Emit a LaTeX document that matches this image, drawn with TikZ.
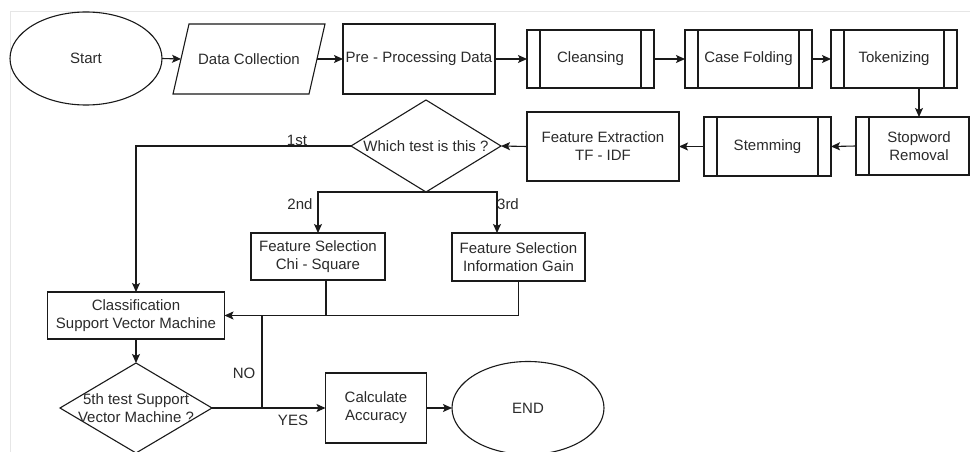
\documentclass[tikz,border=0pt]{standalone}
\usepackage{fontspec}
\setmainfont{Liberation Sans}
\usetikzlibrary{shapes.geometric,arrows.meta}
\definecolor{ink}{HTML}{1A1A1A}
\definecolor{txt}{HTML}{2B2B2B}
\definecolor{framegray}{HTML}{E6E6E6}
\begin{document}
\begin{tikzpicture}[x=1pt,y=-1pt,
  base/.style={line width=1.1pt, draw=ink, font=\fontsize{15}{18}\selectfont, text=txt, align=center, inner sep=0pt, outer sep=0pt},
  box/.style={base, rectangle},
  sub/.style={base, rectangle, path picture={
     \draw[line width=1.1pt, ink] ([xshift=13pt]path picture bounding box.north west) -- ([xshift=13pt]path picture bounding box.south west);
     \draw[line width=1.1pt, ink] ([xshift=-13pt]path picture bounding box.north east) -- ([xshift=-13pt]path picture bounding box.south east);}},
  term/.style={base, ellipse},
  dec/.style={base, diamond},
  lbl/.style={font=\fontsize{15}{18}\selectfont, text=txt, inner sep=0pt, align=center},
  arr/.style={line width=1.1pt, draw=ink, -{Stealth[length=9pt,width=8pt,inset=2pt]}},
  ln/.style={line width=1.1pt, draw=ink},
]
\useasboundingbox (0,0) rectangle (970,452);
\fill[white] (0,0) rectangle (970,452);
\draw[framegray, line width=1pt] (10,452) -- (10,12) -- (970,12);

% top row
\node[term, minimum width=152pt, minimum height=93pt] (start) at (86,58.5) {Start};
\node[base, draw=none, minimum width=136pt, minimum height=70pt] (data) at (249,59) {Data Collection};
\draw[ln] ([xshift=-8pt]data.south west) -- ([xshift=8pt]data.north west) -- ([xshift=8pt]data.north east) -- ([xshift=-8pt]data.south east) -- cycle;
\node[box, minimum width=152pt, minimum height=70pt] (pre) at (419,59) {Pre - Processing Data};
\node[sub, minimum width=127pt, minimum height=58pt] (clean) at (590.5,59) {Cleansing};
\node[sub, minimum width=127pt, minimum height=58pt] (fold) at (748.5,59) {Case Folding};
\node[sub, minimum width=126pt, minimum height=58pt] (tok) at (894,59) {Tokenizing};

% second row
\node[sub, minimum width=126pt, minimum height=58pt] (stop) at (919,146) {Stopword\\Removal};
\node[sub, minimum width=127pt, minimum height=59pt] (stem) at (767.5,146.5) {Stemming};
\node[box, minimum width=152pt, minimum height=69pt] (tfidf) at (603,146.5) {Feature Extraction\\TF - IDF};
\node[dec, minimum width=150pt, minimum height=92pt] (which) at (426,146) {};
\node[lbl] (whicht) at (426,146) {Which test is this ?};

% third row
\node[box, minimum width=134pt, minimum height=47pt] (chi) at (318,256.5) {Feature Selection\\Chi - Square};
\node[box, minimum width=133pt, minimum height=48pt] (info) at (518.5,257) {Feature Selection\\Information Gain};

% bottom
\node[box, minimum width=177pt, minimum height=47pt] (svm) at (136,315.5) {Classification\\Support Vector Machine};
\node[dec, minimum width=152pt, minimum height=90pt] (fifth) at (136,408) {};
\node[lbl] (fiftht) at (136,408.5) {5th test Support\\Vector Machine ?};
\node[box, minimum width=101pt, minimum height=70pt] (calc) at (376,408) {Calculate\\Accuracy};
\node[term, minimum width=152pt, minimum height=93pt] (end) at (528,408) {END};

% connectors
\draw[arr] (start.east) -- (data.west);
\draw[arr] (data.east) -- (pre.west);
\draw[arr] (pre.east) -- (clean.west);
\draw[arr] (clean.east) -- (fold.west);
\draw[arr] (fold.east) -- (tok.west);
\draw[arr] (tok.south -| stop.north) -- (stop.north);
\draw[arr] (stop.west) -- (stem.east);
\draw[arr] (stem.west) -- (tfidf.east);
\draw[arr] (tfidf.west) -- (which.east);
\draw[arr] (which.west) -| (svm.north);
\draw[arr] (which.south) -| (chi.north);
\coordinate (infoin) at ([xshift=-21.5pt]info.north);
\draw[arr] (which.south) -| (infoin);
\coordinate (chiout) at ([xshift=8pt]chi.south);
\draw[ln] (chiout) -- (chiout |- svm.east);
\draw[arr] (info.south) |- (svm.east);
\draw[arr] (svm.south) -- (fifth.north);
\draw[arr] (fifth.east) -- (calc.west);
\coordinate (nolow) at (262,408);
\coordinate (nohigh) at (262,315.5);
\draw[ln] (nolow) -- (nohigh);
\draw[arr] (calc.east) -- (end.west);

% labels
\node[lbl] (l1) at (297,140) {1st};
\node[lbl] (l2) at (300,204) {2nd};
\node[lbl] (l3) at (508,204) {3rd};
\node[lbl] (lno) at (244,373) {NO};
\node[lbl] (lyes) at (293,420) {YES};
\end{tikzpicture}
\end{document}
